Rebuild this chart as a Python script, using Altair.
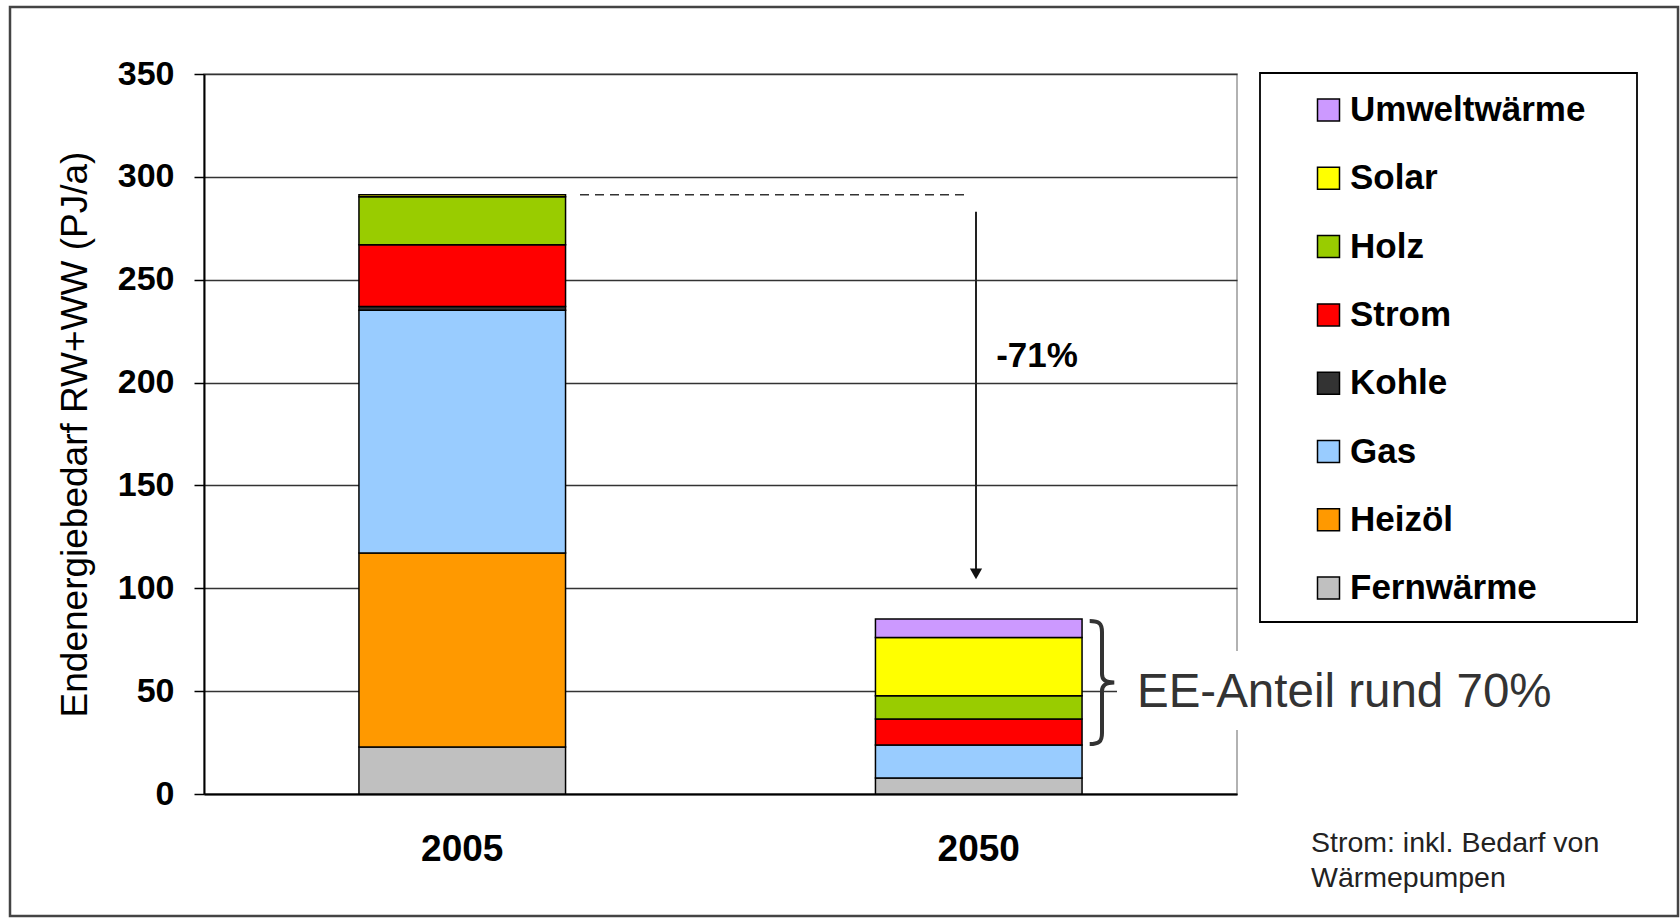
import altair as alt
import pandas as pd

FONT = "Liberation Sans"

# ---------------- data ----------------
years = ["2005", "2050"]
carriers = ["Fernwärme", "Heizöl", "Gas", "Kohle", "Strom", "Holz", "Solar", "Umweltwärme"]  # bottom -> top
values_2005 = [22.8, 94.4, 117.9, 1.9, 30.0, 23.3, 1.0, 0.0]
values_2050 = [7.8, 0.0, 16.0, 0.0, 12.7, 11.3, 28.3, 9.0]
colors = ["#C0C0C0", "#FF9900", "#99CCFF", "#333333", "#FF0000", "#99CC00", "#FFFF00", "#CC99FF"]
y_ticks = [0, 50, 100, 150, 200, 250, 300, 350]

legend_order = list(reversed(carriers))
legend_colors = list(reversed(colors))

rows = []
for year, vals in zip(years, [values_2005, values_2050]):
    for i, (c, v) in enumerate(zip(carriers, vals)):
        if v > 0:
            rows.append({"year": year, "carrier": c, "value": v, "idx": i})
df = pd.DataFrame(rows)

total_2005 = sum(values_2005)
reduction_label = "-71%"
ee_label = "EE-Anteil rund 70%"
footnote = ["Strom: inkl. Bedarf von", "Wärmepumpen"]

# annotation levels (data units)
arrow_top = 283
arrow_end = 108
arrow_head = 107
reduction_level = 213
brace_level = 54.2
ee_level = 49

one = pd.DataFrame({"k": [0]})

# ---------------- layers ----------------
frame = alt.Chart(one).mark_rect(fillOpacity=0, stroke="#444444", strokeWidth=2.5).encode(
    x=alt.value(-194), x2=alt.value(1474), y=alt.value(-67), y2=alt.value(842)
)

bars = alt.Chart(df).mark_bar(stroke="black", strokeWidth=1.5).encode(
    x=alt.X(
        "year:N",
        sort=years,
        scale=alt.Scale(paddingInner=0.6, paddingOuter=0.3),
        axis=alt.Axis(
            title=None, labelAngle=0, ticks=False, labelPadding=37,
            labelFont=FONT, labelFontSize=37, labelFontWeight="bold", labelColor="black",
            domainColor="black", domainWidth=2, grid=False,
        ),
    ),
    y=alt.Y(
        "value:Q",
        stack="zero",
        scale=alt.Scale(domain=[0, 350], nice=False),
        axis=alt.Axis(
            title="Endenergiebedarf RW+WW (PJ/a)", values=y_ticks,
            labelFont=FONT, labelFontSize=34, labelFontWeight="bold", labelColor="black",
            labelPadding=20, tickSize=10, tickWidth=1.5, tickColor="black",
            domainColor="black", domainWidth=2,
            grid=True, gridColor="#333333", gridWidth=1.5,
            titleFont=FONT, titleFontSize=37, titleFontWeight="normal", titleColor="black",
            titleX=-129, titleY=360, titleAngle=-90, titleBaseline="middle", titleAlign="center",
        ),
    ),
    color=alt.Color(
        "carrier:N",
        scale=alt.Scale(domain=legend_order, range=legend_colors),
        legend=alt.Legend(
            title=None, orient="none", legendX=1107, legendY=18.5, padding=0,
            symbolType="square", symbolSize=484, symbolStrokeColor="black", symbolStrokeWidth=1.5,
            symbolOpacity=1,
            labelFont=FONT, labelFontSize=35, labelFontWeight="bold", labelColor="black",
            labelOffset=4, rowPadding=32.3, labelLimit=400,
        ),
    ),
    order=alt.Order("idx:Q", sort="ascending"),
)

dash = alt.Chart(one).mark_rule(strokeDash=[9, 6], color="#333333", strokeWidth=1.5).encode(
    x=alt.value(376), x2=alt.value(762), y=alt.datum(total_2005)
)

arrow = alt.Chart(one).mark_rule(color="#222222", strokeWidth=2).encode(
    x=alt.value(772), y=alt.datum(arrow_top), y2=alt.datum(arrow_end)
)

arrow_tip = alt.Chart(one).mark_point(shape="triangle-down", filled=True, color="#111111", size=150, opacity=1).encode(
    x=alt.value(772), y=alt.datum(arrow_head)
)

red_text = alt.Chart(one).mark_text(
    font=FONT, fontSize=35, fontWeight="bold", color="black", align="center", baseline="middle"
).encode(x=alt.value(833), y=alt.datum(reduction_level), text=alt.value(reduction_label))

brace_path = (
    "M -0.2 -1 C -0.05 -1 0 -0.96 0 -0.82 L 0 -0.14 C 0 -0.04 0.06 0 0.2 0 "
    "C 0.06 0 0 0.04 0 0.14 L 0 0.82 C 0 0.96 -0.05 1 -0.2 1"
)
brace = alt.Chart(one).mark_point(
    shape=brace_path, filled=False, stroke="#333333", strokeWidth=4, size=123 * 123, opacity=1
).encode(x=alt.value(898), y=alt.datum(brace_level))

ee_bg = alt.Chart(one).mark_rect(fill="white").encode(
    x=alt.value(913), x2=alt.value(1360), y=alt.value(577), y2=alt.value(656)
)

ee_text = alt.Chart(one).mark_text(
    font=FONT, fontSize=47.5, color="#333333", align="left", baseline="middle"
).encode(x=alt.value(933), y=alt.datum(ee_level), text=alt.value(ee_label))

foot = alt.Chart(one).mark_text(
    font=FONT, fontSize=28.5, color="#222222", align="left", baseline="alphabetic", lineHeight=35
).encode(x=alt.value(1107), y=alt.value(777.7), text=alt.value(footnote))

legend_frame = alt.Chart(one).mark_rect(fillOpacity=0, stroke="black", strokeWidth=1.8).encode(
    x=alt.value(1056), x2=alt.value(1433), y=alt.value(-1), y2=alt.value(548)
)

chart = alt.layer(
    frame, bars, dash, arrow, arrow_tip, red_text, brace, ee_bg, ee_text, foot, legend_frame
).properties(
    width=1033,
    height=720,
    autosize=alt.AutoSizeParams(type="none"),
    padding={"left": 204, "top": 74, "right": 443, "bottom": 125},
    background="white",
).configure_view(stroke="#999999", strokeWidth=1.5)

chart.save("out.html", embed_options={"renderer": "svg", "actions": False})
